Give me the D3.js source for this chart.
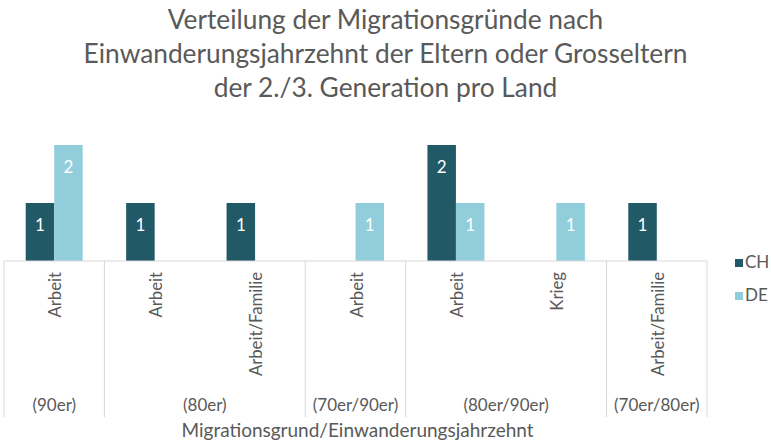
<!DOCTYPE html>
<html lang="de">
<head>
    <meta charset="UTF-8">
    <title>Migrationsgründe</title>
    <script src="https://d3js.org/d3.v7.min.js"></script>
    <style>
        body { margin: 0; background: #fff; }
        text { font-family: Lato, "Open Sans", sans-serif; fill: #595959; }
    </style>
</head>
<body>
    <svg id="chart"></svg>
    <script>
        const width = 771;
        const height = 445;
        const chColor = "#215967";
        const deColor = "#92CDDC";
        const lineColor = "#D9D9D9";

        // data
        const titleLines = [
            "Verteilung der Migrationsgründe nach",
            "Einwanderungsjahrzehnt der Eltern oder Grosseltern",
            "der 2./3. Generation pro Land"
        ];
        const groups = ["(90er)", "(80er)", "(80er)", "(70er/90er)", "(80er/90er)", "(80er/90er)", "(70er/80er)"];
        const reasons = ["Arbeit", "Arbeit", "Arbeit/Familie", "Arbeit", "Arbeit", "Krieg", "Arbeit/Familie"];
        const chValues = [1, 1, 1, 0, 2, 0, 1];
        const deValues = [2, 0, 0, 1, 1, 1, 0];
        const seriesNames = ["CH", "DE"];
        const axisTitle = "Migrationsgrund/Einwanderungsjahrzehnt";

        const plot = {left: 4, right: 707, top: 145, bottom: 261};

        const leaves = reasons.map((r, i) => ({id: i, reason: r, group: groups[i], CH: chValues[i], DE: deValues[i]}));

        const x0 = d3.scaleBand()
            .domain(leaves.map(d => d.id))
            .range([plot.left, plot.right])
            .padding(0);

        const x1 = d3.scaleBand()
            .domain(seriesNames)
            .range([0, x0.bandwidth()])
            .paddingInner(0)
            .paddingOuter(0.762);

        const y = d3.scaleLinear()
            .domain([0, 2])
            .range([plot.bottom, plot.top]);

        const color = d3.scaleOrdinal().domain(seriesNames).range([chColor, deColor]);

        const svg = d3.select("#chart")
            .attr("width", width)
            .attr("height", height);

        // title
        svg.append("g")
            .selectAll("text")
            .data(titleLines)
            .join("text")
            .attr("x", width / 2)
            .attr("y", (d, i) => 29 + i * 34)
            .attr("text-anchor", "middle")
            .style("font-size", "26.3px")
            .text(d => d);

        // bars
        const barData = leaves.flatMap(d => seriesNames.map(s => ({id: d.id, key: s, value: d[s]}))).filter(d => d.value > 0);

        const bars = svg.append("g").attr("class", "bars");
        bars.selectAll("rect")
            .data(barData)
            .join("rect")
            .attr("x", d => x0(d.id) + x1(d.key))
            .attr("y", d => y(d.value))
            .attr("width", x1.bandwidth())
            .attr("height", d => y(0) - y(d.value))
            .attr("fill", d => color(d.key));

        bars.selectAll("text")
            .data(barData)
            .join("text")
            .attr("x", d => x0(d.id) + x1(d.key) + x1.bandwidth() / 2)
            .attr("y", d => y(d.value) + 28)
            .attr("text-anchor", "middle")
            .style("font-size", "17px")
            .style("fill", "#fff")
            .text(d => d.value);

        // axis line and group dividers
        const axis = svg.append("g").attr("class", "x-axis");
        axis.append("line")
            .attr("x1", plot.left).attr("x2", plot.right)
            .attr("y1", plot.bottom).attr("y2", plot.bottom)
            .attr("stroke", lineColor).attr("stroke-width", 1);

        const groupSpans = [];
        leaves.forEach(d => {
            const last = groupSpans[groupSpans.length - 1];
            if (last && last.name === d.group) last.end = d.id;
            else groupSpans.push({name: d.group, start: d.id, end: d.id});
        });

        const dividerX = groupSpans.map(g => x0(g.start)).concat([x0(leaves[leaves.length - 1].id) + x0.bandwidth()]);
        axis.selectAll("line.divider")
            .data(dividerX)
            .join("line")
            .attr("class", "divider")
            .attr("x1", d => d).attr("x2", d => d)
            .attr("y1", plot.bottom).attr("y2", 417)
            .attr("stroke", lineColor).attr("stroke-width", 1);

        // rotated reason labels
        axis.selectAll("text.reason")
            .data(leaves)
            .join("text")
            .attr("class", "reason")
            .attr("transform", d => `translate(${x0(d.id) + x0.bandwidth() / 2 + 7},272) rotate(-90)`)
            .attr("text-anchor", "end")
            .style("font-size", "16.7px")
            .text(d => d.reason);

        // group labels
        axis.selectAll("text.group")
            .data(groupSpans)
            .join("text")
            .attr("class", "group")
            .attr("x", d => (x0(d.start) + x0(d.end) + x0.bandwidth()) / 2)
            .attr("y", 411)
            .attr("text-anchor", "middle")
            .style("font-size", "17px")
            .text(d => d.name);

        svg.append("text")
            .attr("x", (plot.left + plot.right) / 2 + 2)
            .attr("y", 437)
            .attr("text-anchor", "middle")
            .style("font-size", "19px")
            .text(axisTitle);

        // legend
        const legend = svg.append("g")
            .selectAll("g")
            .data(seriesNames)
            .join("g")
            .attr("transform", (d, i) => `translate(735,${259 + i * 33})`);

        legend.append("rect")
            .attr("width", 8).attr("height", 8)
            .attr("fill", d => color(d));

        legend.append("text")
            .attr("x", 10)
            .attr("y", 8.5)
            .style("font-size", "17px")
            .text(d => d);
    </script>
</body>
</html>
